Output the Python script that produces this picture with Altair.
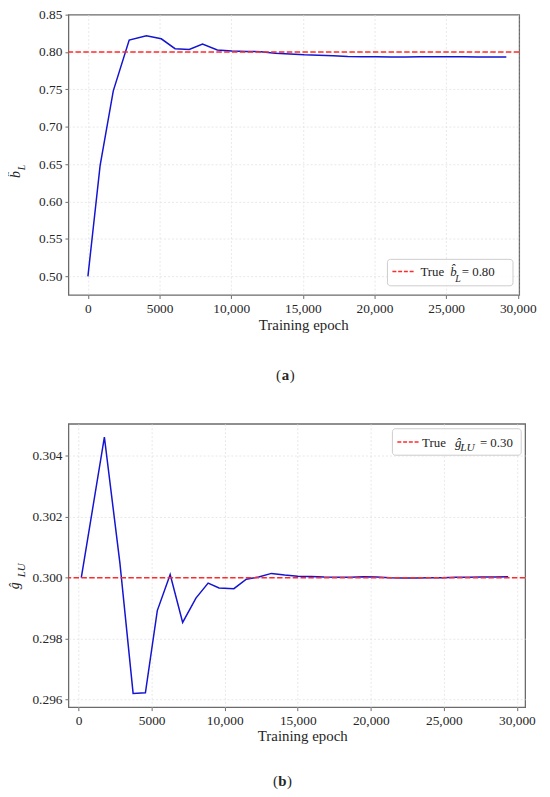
import altair as alt
import pandas as pd

# ---------------- data ----------------
epochs_a = [0, 850, 1770, 2880, 4080, 5120, 6080, 7070, 8000, 9030,
            10050, 11060, 12070, 13080, 14090, 15100, 16110, 17120, 18130, 19140,
            20150, 21160, 22170, 23180, 24190, 25200, 26200, 27200, 28200, 29200]
b_hat = [0.500, 0.648, 0.748, 0.816, 0.8216, 0.8177, 0.8045, 0.8035, 0.8105, 0.8027,
         0.8015, 0.8008, 0.8005, 0.7985, 0.7975, 0.7962, 0.7958, 0.7950, 0.7940, 0.7938,
         0.7937, 0.7935, 0.7935, 0.7936, 0.7937, 0.7937, 0.7936, 0.7934, 0.7934, 0.7934]
true_b = 0.80

epochs_b = [183, 1763, 2828, 3730, 4571, 5385, 6266, 7121, 8030, 8864,
            9610, 10627, 11480, 12322, 13200, 14100, 15000, 15900, 16800, 17700,
            18600, 19500, 20400, 21300, 22200, 23100, 24000, 24900, 25800, 26700,
            27600, 28500, 29400]
g_hat = [0.30000, 0.30461, 0.30047, 0.29620, 0.29622, 0.29892, 0.30010, 0.29853, 0.29933, 0.29982,
         0.29966, 0.29964, 0.29995, 0.30002, 0.30014, 0.30009, 0.30005, 0.30004, 0.30002, 0.30001,
         0.30001, 0.30003, 0.30002, 0.30000, 0.29999, 0.29999, 0.30000, 0.30000, 0.30001, 0.30001,
         0.30002, 0.30002, 0.30003]
true_g = 0.30

x_ticks = [0, 5000, 10000, 15000, 20000, 25000, 30000]
y_ticks_a = [0.50, 0.55, 0.60, 0.65, 0.70, 0.75, 0.80, 0.85]
y_ticks_b = [0.296, 0.298, 0.300, 0.302, 0.304]

SERIF = "Liberation Serif"
BLUE = "#1414d2"
RED = "#ff2b2b"
TXT = "#262626"
XLABEL_EXPR = "datum.value >= 10000 ? format(datum.value, ',') : format(datum.value, 'd')"


def one():
    return alt.Data(values=[{"k": 0}])


def txt(s, x, y, size=13, style="normal", angle=0, weight="normal",
        font=SERIF, align="left", baseline="alphabetic"):
    return alt.Chart(one()).mark_text(
        text=s, align=align, baseline=baseline, font=font, fontSize=size,
        fontStyle=style, fontWeight=weight, angle=angle, color=TXT
    ).encode(x=alt.value(x), y=alt.value(y))


def panel(epochs, vals, true_v, xdom, ydom, yticks, yfmt, w, h,
          legend, ytitle, caption, title_x, title_y):
    df = pd.DataFrame({"epoch": epochs, "value": vals})
    xs = alt.Scale(domain=xdom, nice=False, zero=False)
    ys = alt.Scale(domain=ydom, nice=False, zero=False)
    top_tick = max(yticks)
    line = alt.Chart(df).mark_line(color=BLUE, strokeWidth=1.5, clip=True).encode(
        x=alt.X("epoch:Q", scale=xs,
                axis=alt.Axis(values=x_ticks, labelExpr=XLABEL_EXPR,
                              title="Training epoch", titleX=title_x, titleY=title_y,
                              titleBaseline="middle")),
        y=alt.Y("value:Q", scale=ys,
                axis=alt.Axis(values=yticks, format=yfmt, title=None,
                              gridOpacity={"condition": {"test": f"datum.value >= {top_tick - 1e-9} && {ydom[1]} - {top_tick} < 1e-6",
                                                         "value": 0}, "value": 1})),
    )
    rule = alt.Chart(pd.DataFrame({"t": [true_v]})).mark_rule(
        color=RED, strokeDash=[5.5, 2.4], strokeWidth=1.5
    ).encode(y=alt.Y("t:Q", title=None))

    (bx1, by1, bx2, by2), (lx1, lx2, ly), parts = legend
    box = alt.Chart(one()).mark_rect(
        fill="white", fillOpacity=0.85, stroke="#cccccc", strokeWidth=1, cornerRadius=3
    ).encode(x=alt.value(bx1), x2=alt.value(bx2), y=alt.value(by1), y2=alt.value(by2))
    lline = alt.Chart(one()).mark_rule(
        color=RED, strokeDash=[4, 1.8], strokeWidth=1.5
    ).encode(x=alt.value(lx1), x2=alt.value(lx2), y=alt.value(ly))
    layers = [line, rule, box, lline]
    for p in parts:
        layers.append(txt(*p[:3], **p[3]))
    for p in ytitle:
        layers.append(txt(*p[:3], **p[3]))
    cx, cy = caption[1], caption[2]
    layers.append(txt("(", cx - 4.5, cy, size=15, align="right", baseline="middle"))
    layers.append(txt(caption[0], cx, cy, size=15, weight="bold", align="center", baseline="middle"))
    layers.append(txt(")", cx + 4.5, cy, size=15, align="left", baseline="middle"))
    return alt.layer(*layers).properties(width=w, height=h)


top = panel(
    epochs_a, b_hat, true_b, [-1360, 30100], [0.475, 0.85], y_ticks_a, ".2f", 455, 283,
    legend=(
        (322, 247, 448.7, 273.7), (327, 348.7, 259.3),
        [
            ("True", 355.3, 263.7, {}),
            ("b\u0302", 385.3, 263.7, {"style": "italic"}),
            ("L", 390.5, 269.8, {"style": "italic", "size": 10}),
            ("= 0.80", 397, 263.7, {}),
        ],
    ),
    ytitle=[
        ("b\u0302", -49, 165, {"style": "italic", "angle": 270, "size": 14}),
        ("L", -44, 157, {"style": "italic", "angle": 270, "size": 10}),
    ],
    caption=("a", 219, 364),
    title_x=237, title_y=30,
)

bottom = panel(
    epochs_b, g_hat, true_g, [-698, 30565], [0.29575, 0.30505], y_ticks_b, ".3f", 461, 286,
    legend=(
        (327, 5, 457, 31.7), (332, 353.7, 18.3),
        [
            ("True", 357, 23.3, {}),
            ("g\u0302", 390.3, 23.3, {"style": "italic"}),
            ("LU", 395.5, 27.3, {"style": "italic", "size": 11.5}),
            ("= 0.30", 415.3, 23.3, {}),
        ],
    ),
    ytitle=[
        ("g\u0302", -50, 167, {"style": "italic", "angle": 270, "size": 14}),
        ("LU", -44, 155, {"style": "italic", "angle": 270, "size": 11}),
    ],
    caption=("b", 216, 361),
    title_x=236, title_y=29,
)

chart = alt.vconcat(top, bottom, spacing=39).properties(
    padding={"left": -1, "top": -5, "right": 5, "bottom": 5}
).configure_view(
    stroke="#6b6b6b", strokeWidth=1.3
).configure_axis(
    labelFont=SERIF, labelFontSize=13.5, labelColor=TXT,
    titleFont=SERIF, titleFontSize=15, titleColor=TXT, titleFontWeight="normal",
    gridColor="#e2e2e2", gridDash=[2, 2], gridWidth=0.8,
    tickColor="#6b6b6b", tickSize=3.5, tickWidth=1, domain=False, labelPadding=3,
)

chart.save("out.html", embed_options={"renderer": "svg", "actions": False})
